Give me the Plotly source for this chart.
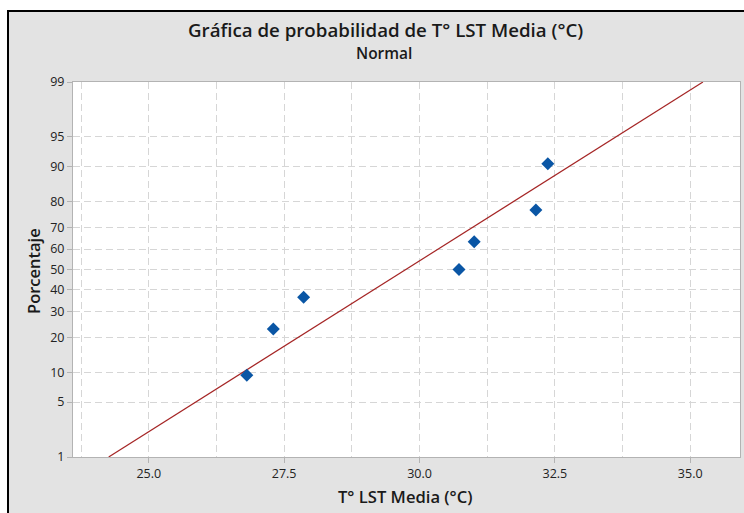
import plotly.graph_objects as go
from statistics import NormalDist, mean, stdev

# Data (T° LST Media, °C), sorted
temps = [26.81, 27.30, 27.86, 30.73, 31.01, 32.15, 32.37]
# Y tick labels (percent)
pct_ticks = [1, 5, 10, 20, 30, 40, 50, 60, 70, 80, 90, 95, 99]
x_ticks = [25.0, 27.5, 30.0, 32.5, 35.0]

nd = NormalDist()
n = len(temps)
# Median ranks (Benard) used by Minitab
pcts = [(i + 1 - 0.3) / (n + 0.4) * 100 for i in range(n)]
zpts = [nd.inv_cdf(p / 100) for p in pcts]

mu = mean(temps)
sd = stdev(temps)
z_lo, z_hi = nd.inv_cdf(0.01), nd.inv_cdf(0.99)
line_x = [mu + sd * z_lo, mu + sd * z_hi]
line_z = [z_lo, z_hi]

W, H = 744, 513
L, R, T, B = 73, 4, 82, 56
pw, ph = W - L - R, H - T - B

def px(x):
    return (x - L) / pw

def py(y):
    return (H - B - y) / ph

FONT = "Open Sans, Noto Sans, sans-serif"

fig = go.Figure()
fig.add_trace(go.Scatter(x=line_x, y=line_z, mode="lines",
                         line=dict(color="#a52525", width=1.2),
                         hoverinfo="skip", showlegend=False))
fig.add_trace(go.Scatter(x=temps, y=zpts, mode="markers",
                         marker=dict(symbol="diamond", size=10, color="#0a56a5"),
                         showlegend=False,
                         customdata=[round(p, 1) for p in pcts],
                         hovertemplate="%{x:.2f} °C, %{customdata}%<extra></extra>"))

grid = "#d6d6d6"
axcol = "#b3b3b3"
tickfont = dict(family=FONT, size=12.5, color="#222222")

fig.update_layout(
    width=W, height=H,
    margin=dict(l=L, r=R, t=T, b=B),
    paper_bgcolor="white",
    plot_bgcolor="white",
    showlegend=False,
    xaxis=dict(
        range=[23.6, 35.92],
        tickvals=x_ticks, ticktext=[f"{v:.1f}" for v in x_ticks],
        ticks="outside", ticklen=5, tickcolor=axcol,
        showline=True, linecolor=axcol, linewidth=1, mirror=True,
        showgrid=True, gridcolor=grid, griddash="7px,4px", gridwidth=1,
        minor=dict(dtick=1.25, tick0=25, showgrid=True, gridcolor=grid,
                   griddash="7px,4px", ticks=""),
        zeroline=False, tickfont=tickfont,
    ),
    yaxis=dict(
        range=[z_lo, z_hi],
        tickvals=[nd.inv_cdf(p / 100) for p in pct_ticks],
        ticktext=[str(p) for p in pct_ticks],
        ticks="outside", ticklen=5, tickcolor=axcol,
        showline=True, linecolor=axcol, linewidth=1, mirror=True,
        showgrid=True, gridcolor=grid, griddash="7px,4px", gridwidth=1,
        zeroline=False, tickfont=tickfont,
    ),
    shapes=[
        dict(type="rect", xref="paper", yref="paper",
             x0=px(8), x1=px(760), y0=py(530), y1=py(11),
             fillcolor="#e3e3e3", line=dict(color="black", width=2),
             layer="below"),
        dict(type="rect", xref="paper", yref="paper",
             x0=0, x1=1, y0=0, y1=1,
             fillcolor="white", line=dict(width=0),
             layer="below"),
    ],
    annotations=[
        dict(text="Gráfica de probabilidad de T° LST Media (°C)",
             xref="paper", yref="paper", x=px(385), y=py(30),
             showarrow=False, xanchor="center", yanchor="middle",
             font=dict(family=FONT, size=18.7, color="#1a1a1a", weight=600)),
        dict(text="Normal", xref="paper", yref="paper", x=px(384), y=py(53.5),
             showarrow=False, xanchor="center", yanchor="middle",
             font=dict(family=FONT, size=15.5, color="#1a1a1a", weight=600)),
        dict(text="Porcentaje", xref="paper", yref="paper", x=px(33), y=py(271),
             showarrow=False, xanchor="center", yanchor="middle", textangle=-90,
             font=dict(family=FONT, size=16.5, color="#1a1a1a", weight=600)),
        dict(text="T° LST Media (°C)", xref="paper", yref="paper", x=px(405), y=py(496),
             showarrow=False, xanchor="center", yanchor="middle",
             font=dict(family=FONT, size=16.6, color="#1a1a1a", weight=600)),
    ],
)

fig.write_html("out.html", config={"displayModeBar": False},
               post_script="document.body.style.margin='0';")
